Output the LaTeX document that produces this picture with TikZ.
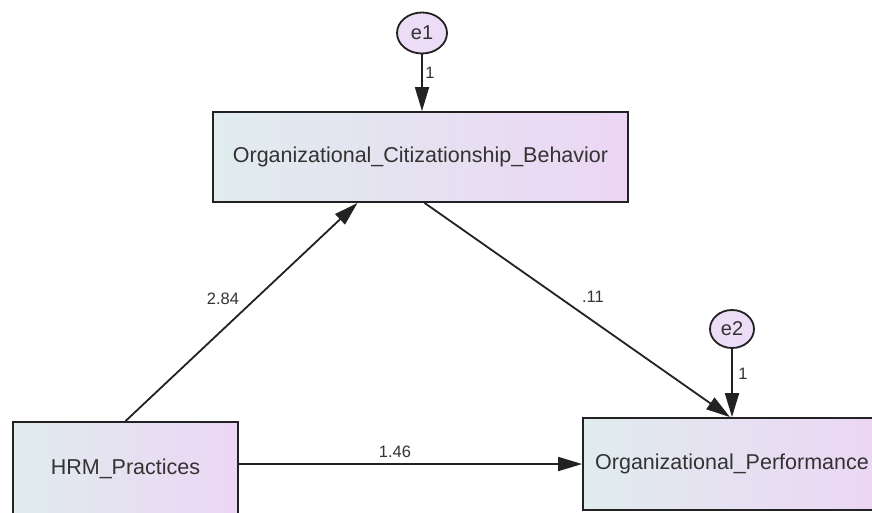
\documentclass[tikz,border=0pt]{standalone}
\usepackage{fontspec}
\setmainfont{Liberation Sans}
\usetikzlibrary{arrows.meta,shapes.geometric,calc}
\definecolor{boxleft}{RGB}{224,236,238}
\definecolor{boxright}{RGB}{236,214,244}
\definecolor{errfill}{RGB}{236,220,246}
\definecolor{linecol}{RGB}{34,34,34}
\definecolor{txtcol}{RGB}{51,51,51}
\tikzset{
  varbox/.style={draw=linecol, line width=1.8pt, rectangle, left color=boxleft, right color=boxright,
    inner sep=0pt, text=txtcol, font=\fontsize{21.5}{24}\selectfont},
  errnode/.style={draw=linecol, line width=1.8pt, ellipse, fill=errfill, inner sep=0pt,
    text=txtcol, font=\fontsize{20}{22}\selectfont},
  path/.style={draw=linecol, line width=1.8pt, -{Triangle[length=24pt,width=14pt]}},
  coef/.style={text=txtcol, font=\fontsize{16.5}{18}\selectfont, inner sep=0pt}
}
\begin{document}
\begin{tikzpicture}[x=1pt,y=-1pt]
\useasboundingbox (0,0) rectangle (872,512);
\clip (0,0) rectangle (872,512);
\fill[white] (0,0) rectangle (872,512);
\node[varbox, minimum width=415pt, minimum height=90pt] (ocb) at (420.5,157) {Organizational\_Citizationship\_Behavior};
\node[varbox, minimum width=225pt, minimum height=94pt] (hrm) at (125.5,469) {HRM\_Practices};
\node[varbox, minimum width=298pt, minimum height=92pt] (op) at (732,464) {Organizational\_Performance};
\node[errnode, minimum width=50pt, minimum height=41pt] (e1) at (422,33) {e1};
\node[errnode, minimum width=44pt, minimum height=38pt] (e2) at (732,329) {e2};
\coordinate (ocbin) at ($(ocb.south)+(-63,0)$);
\coordinate (ocbout) at ($(ocb.south)+(4,0)$);
\coordinate (opin) at ($(op.north)+(-2,0)$);
\draw[path] (e1.south) -- (e1.south |- ocb.north);
\draw[path] (e2.south) -- (e2.south |- op.north);
\draw[path] (hrm.north) -- (ocbin);
\draw[path] (ocbout) -- (opin);
\draw[path] (hrm.east |- op.west) -- (op.west);
\node[coef] (l1) at (430,73) {1};
\node[coef] (l2) at (743,374) {1};
\node[coef] (l284) at (223,299) {2.84};
\node[coef] (l11) at (593,297) {.11};
\node[coef] (l146) at (395,452) {1.46};
\end{tikzpicture}
\end{document}
